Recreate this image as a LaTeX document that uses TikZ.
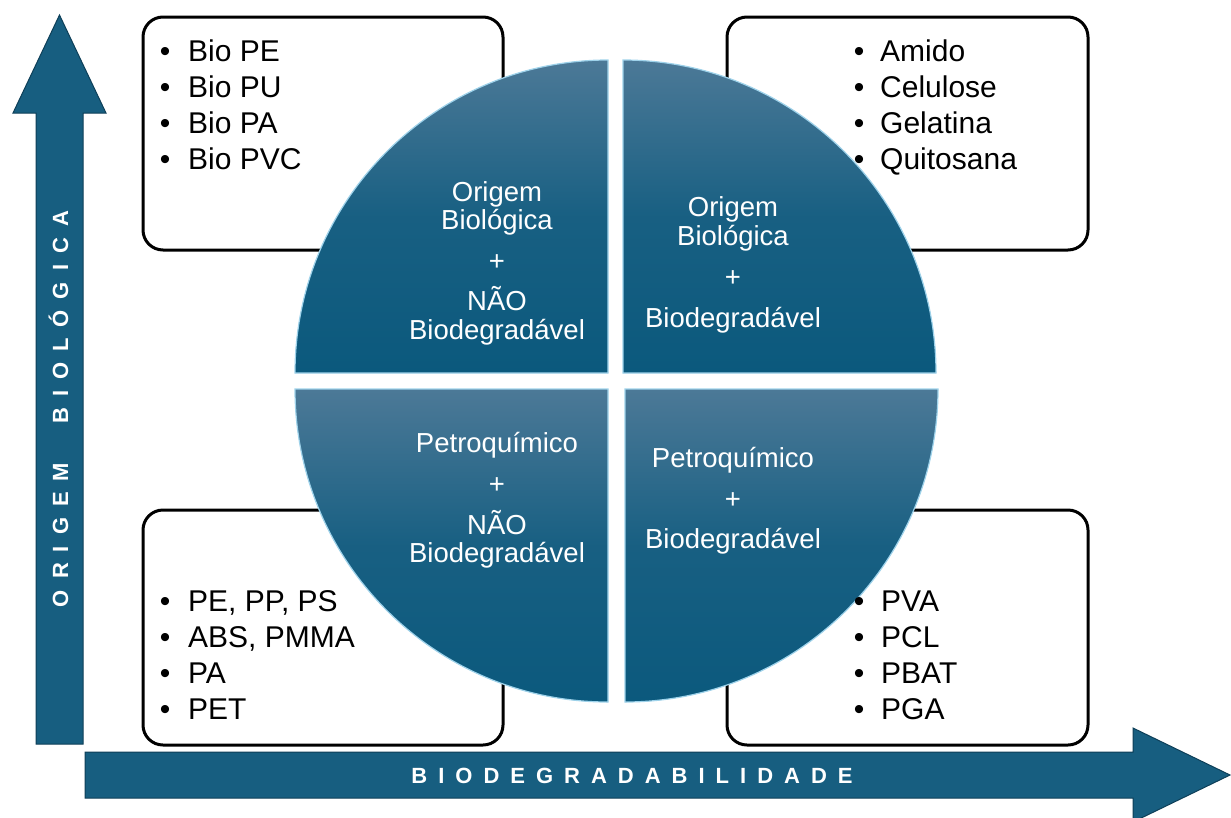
\documentclass[tikz,border=0pt]{standalone}
\usepackage{fontspec}
\setmainfont{Liberation Sans}
\newfontfamily\axisfont[LetterSpace=50]{Liberation Sans Bold}
\definecolor{arrowfill}{HTML}{175E80}
\definecolor{arrowline}{HTML}{0E3F58}
\definecolor{qtop}{HTML}{4C7997}
\definecolor{qbot}{HTML}{0B597D}
\definecolor{edgecol}{HTML}{9ED2EA}
\begin{document}
\begin{tikzpicture}[x=1pt,y=-1pt,
  listbox/.style={draw=black, line width=3pt, rounded corners=20pt, fill=white, inner sep=0pt},
  item/.style={anchor=base west, inner sep=0pt, font=\fontsize{30}{36}\selectfont},
  bul/.style={anchor=base, inner sep=0pt, font=\fontsize{30}{36}\selectfont},
  qtext/.style={anchor=base, inner sep=0pt, text=white, font=\fontsize{27.5}{30}\selectfont},
  axislabel/.style={anchor=base, text=white, inner sep=0pt, font=\axisfont\fontsize{22}{22}\selectfont},
  quad/.style={draw=edgecol, line width=1.2pt, top color=qtop, bottom color=qbot, middle color=qbot!80!qtop},
  bigarrow/.style={fill=arrowfill, draw=arrowline, line width=1pt}
]
\useasboundingbox (0,0) rectangle (1231,817);

% axes arrows
\path[bigarrow] (36,744) -- (36,113) -- (13,113) -- (59.5,15) -- (106,113) -- (83,113) -- (83,744) -- cycle;
\path[bigarrow] (85,752) -- (1133,752) -- (1133,728) -- (1230,775) -- (1133,822) -- (1133,798) -- (85,798) -- cycle;
\node[axislabel, rotate=90] (yl) at (68,409) {ORIGEM\hspace{22pt} BIOLÓGICA};
\node[axislabel] (xl) at (632,783) {BIODEGRADABILIDADE};

% list boxes
\node[listbox, minimum width=360pt, minimum height=233pt] (btl) at (323,133.5) {};
\node[listbox, minimum width=361pt, minimum height=233pt] (btr) at (907.5,133.5) {};
\node[listbox, minimum width=360pt, minimum height=235pt] (bbl) at (323,627.5) {};
\node[listbox, minimum width=361pt, minimum height=235pt] (bbr) at (907.5,627.5) {};

% quadrants
\path[quad] (608,373) -- (295,373) arc[start angle=180, end angle=90, radius=313pt] -- cycle;
\path[quad] (623,373) -- (623,60) arc[start angle=90, end angle=0, radius=313pt] -- cycle;
\path[quad] (608,389) -- (295,389) arc[start angle=180, end angle=270, radius=313pt] -- cycle;
\path[quad] (625,389) -- (938,389) arc[start angle=0, end angle=-90, radius=313pt] -- cycle;

% quadrant texts
\node[qtext] (a1) at (497,201) {Origem};
\node[qtext] (a2) at (497,229) {Biológica};
\node[qtext] (a3) at (497,270) {+};
\node[qtext] (a4) at (497,310) {NÃO};
\node[qtext] (a5) at (497,339) {Biodegradável};

\node[qtext] (b1) at (733,216) {Origem};
\node[qtext] (b2) at (733,245) {Biológica};
\node[qtext] (b3) at (733,286) {+};
\node[qtext] (b4) at (733,327) {Biodegradável};

\node[qtext] (c1) at (497,452) {Petroquímico};
\node[qtext] (c2) at (497,493) {+};
\node[qtext] (c3) at (497,534) {NÃO};
\node[qtext] (c4) at (497,562) {Biodegradável};

\node[qtext] (d1) at (733,467) {Petroquímico};
\node[qtext] (d2) at (733,508) {+};
\node[qtext] (d3) at (733,548) {Biodegradável};

% lists
\foreach \t [count=\i] in {Bio PE,Bio PU,Bio PA,Bio PVC}{
  \node[bul] (tlb\i) at (165,{25+36*\i}) {•};
  \node[item] (tl\i) at (188,{25+36*\i}) {\t};
}
\foreach \t [count=\i] in {Amido,Celulose,Gelatina,Quitosana}{
  \node[bul] (trb\i) at (859,{25+36*\i}) {•};
  \node[item] (tr\i) at (880,{25+36*\i}) {\t};
}
\foreach \t [count=\i] in {{PE, PP, PS},{ABS, PMMA},PA,PET}{
  \node[bul] (blb\i) at (165,{575+36*\i}) {•};
  \node[item] (bl\i) at (188,{575+36*\i}) {\t};
}
\foreach \t [count=\i] in {PVA,PCL,PBAT,PGA}{
  \node[bul] (brb\i) at (859,{575+36*\i}) {•};
  \node[item] (br\i) at (881,{575+36*\i}) {\t};
}
\end{tikzpicture}
\end{document}
